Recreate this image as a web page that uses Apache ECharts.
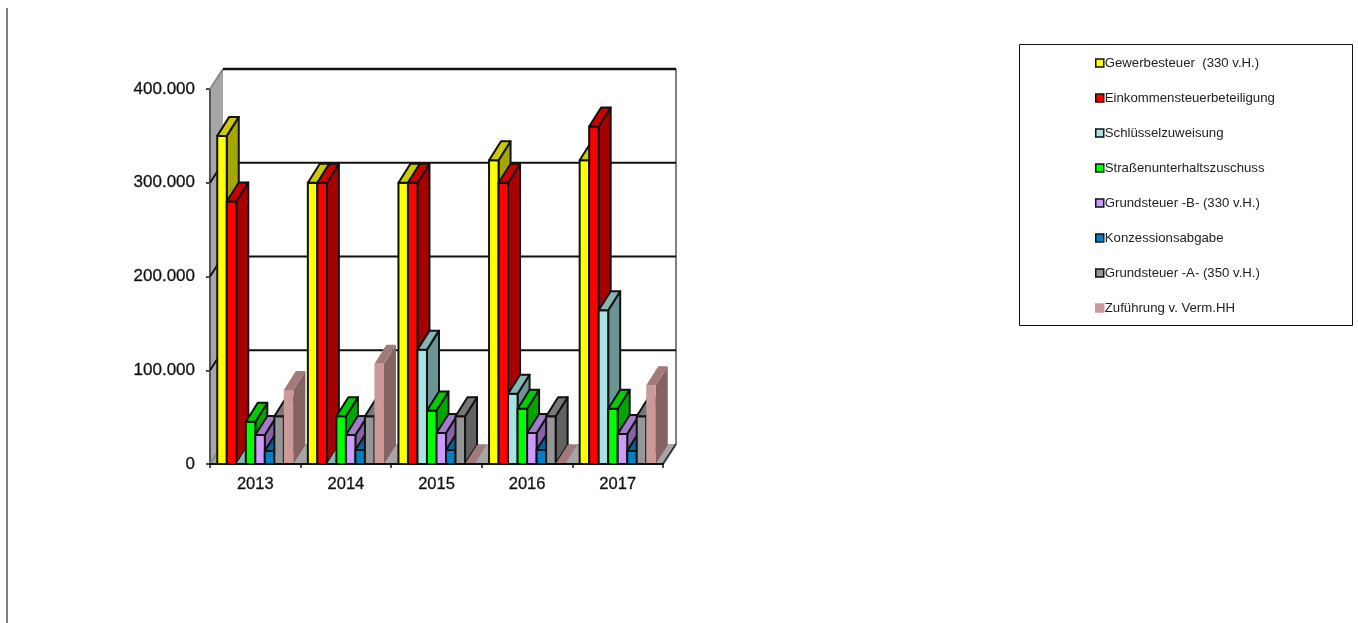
<!DOCTYPE html>
<html>
<head>
<meta charset="utf-8">
<style>
  html, body { margin: 0; padding: 0; background: #fff; }
  #chart { width: 1358px; height: 623px; }
</style>
<script src="https://cdn.jsdelivr.net/npm/echarts@6/dist/echarts.min.js"></script>
</head>
<body>
<div id="chart"></div>
<script>
const years = ['2013', '2014', '2015', '2016', '2017'];
const yTicks = [0, 100000, 200000, 300000, 400000];

const seriesNames = [
  'Gewerbesteuer  (330 v.H.)',
  'Einkommensteuerbeteiligung',
  'Schlüsselzuweisung',
  'Straßenunterhaltszuschuss',
  'Grundsteuer -B- (330 v.H.)',
  'Konzessionsabgabe',
  'Grundsteuer -A- (350 v.H.)',
  'Zuführung v. Verm.HH'
];

const gewerbesteuer = [350000, 300000, 300000, 324000, 324000];
const einkommensteuer = [280000, 300000, 300000, 300000, 360000];
const schluessel = [0, 0, 122000, 75000, 164000];
const strassen = [45000, 51000, 57000, 59000, 59000];
const grundsteuerB = [31000, 31000, 33000, 33000, 32000];
const konzession = [14000, 15000, 15000, 15000, 14000];
const grundsteuerA = [51000, 51000, 51000, 51000, 51000];
const zufuehrung = [79000, 107000, 0, 0, 84000];

const allValues = [gewerbesteuer, einkommensteuer, schluessel, strassen, grundsteuerB, konzession, grundsteuerA, zufuehrung];

const frontColors = ['#ffff00', '#ff0000', '#a6e3e3', '#00ff00', '#cc99ff', '#0080c0', '#969696', '#cc9999'];
// the last series has no outline in the original
const edgeColors = ['#111', '#111', '#111', '#111', '#111', '#111', '#111', null];

const wallDx = 13, wallDy = -20;
const barDx = 12, barDy = -19;
const barRatio = 0.105;

function shade(hex, f) {
  const n = parseInt(hex.slice(1), 16);
  const c = [n >> 16, (n >> 8) & 255, n & 255].map(v => Math.round(v * f));
  return 'rgb(' + c.join(',') + ')';
}

function poly(points, fill, stroke, width) {
  return {
    type: 'polygon',
    shape: { points: points },
    style: { fill: fill, stroke: stroke, lineWidth: stroke ? width : 0, lineJoin: 'round' }
  };
}

function renderWalls(params, api) {
  const g = params.coordSys;
  const l = g.x, r = g.x + g.width, t = g.y, b = g.y + g.height;
  const kids = [
    poly([[l + wallDx, t + wallDy], [r + wallDx, t + wallDy], [r + wallDx, b + wallDy], [l + wallDx, b + wallDy]], '#fff', null, 0),
    poly([[l, t], [l + wallDx, t + wallDy], [l + wallDx, b + wallDy], [l, b]], '#a6a6a6', null, 0),
    poly([[l, b], [l + wallDx, b + wallDy], [r + wallDx, b + wallDy], [r, b]], '#a6a6a6', null, 0)
  ];
  kids.push({ type: 'line', shape: { x1: l, y1: t, x2: l, y2: b }, style: { stroke: '#555', lineWidth: 2 } });
  kids.push({ type: 'line', shape: { x1: r + wallDx, y1: t + wallDy, x2: r + wallDx, y2: b + wallDy }, style: { stroke: '#808080', lineWidth: 2 } });
  kids.push({ type: 'line', shape: { x1: r, y1: b, x2: r + wallDx, y2: b + wallDy }, style: { stroke: '#333', lineWidth: 2 } });
  yTicks.forEach(v => {
    const y = api.coord([0, v])[1];
    const edgeLine = v === 0 || v === yTicks[yTicks.length - 1];
    kids.push({ type: 'line', shape: { x1: l, y1: y, x2: l + wallDx, y2: y + wallDy }, style: { stroke: edgeLine ? '#888' : '#111', lineWidth: 2 } });
    if (v) kids.push({ type: 'line', shape: { x1: l + wallDx, y1: y + wallDy, x2: r + wallDx, y2: y + wallDy }, style: { stroke: '#111', lineWidth: edgeLine ? 2.5 : 2.2 } });
  });
  return { type: 'group', children: kids };
}

function makeBarRenderer(i) {
  return function (params, api) {
    const w = api.size([1, 0])[0] * barRatio;
    const base = api.coord([api.value(0), 0]);
    const top = api.coord([api.value(0), api.value(1)]);
    const x0 = base[0] + (i - 4) * w, x1 = x0 + w;
    const y0 = base[1], y1 = top[1];
    const col = frontColors[i], edge = edgeColors[i];
    const kids = [];
    if (y0 - y1 > 0.5) {
      kids.push(poly([[x1, y0], [x1 + barDx, y0 + barDy], [x1 + barDx, y1 + barDy], [x1, y1]], shade(col, 0.65), edge, 2));
      kids.push(poly([[x0, y0], [x1, y0], [x1, y1], [x0, y1]], col, edge, 2));
    }
    kids.push(poly([[x0, y1], [x1, y1], [x1 + barDx, y1 + barDy], [x0 + barDx, y1 + barDy]], shade(col, 0.8), y0 - y1 > 0.5 ? edge : null, 2));
    return { type: 'group', children: kids };
  };
}

const barSeries = seriesNames.map((name, i) => ({
  name: name,
  type: 'custom',
  coordinateSystem: 'cartesian2d',
  clip: false,
  z: 10 + i,
  itemStyle: { color: frontColors[i] },
  encode: { x: 0, y: 1 },
  data: allValues[i].map((v, k) => [k, v]),
  renderItem: makeBarRenderer(i)
}));

const chart = echarts.init(document.getElementById('chart'));
chart.setOption({
  animation: false,
  backgroundColor: '#fff',
  textStyle: { fontFamily: '"Liberation Sans", Arial, sans-serif' },
  grid: { left: 210, top: 89, width: 453, height: 375, containLabel: false },
  xAxis: {
    type: 'category',
    data: years,
    boundaryGap: true,
    axisLine: { show: true, onZero: false, lineStyle: { color: '#111', width: 2 } },
    axisTick: { show: true, alignWithLabel: false, length: 4, lineStyle: { color: '#111', width: 1.5 } },
    axisLabel: { color: '#111', fontSize: 16.5, margin: 12, textBorderColor: '#222', textBorderWidth: 0.3 },
    splitLine: { show: false },
    z: 30
  },
  yAxis: {
    type: 'value',
    min: 0,
    max: 400000,
    interval: 100000,
    axisLine: { show: false },
    axisTick: { show: true, length: 4, lineStyle: { color: '#111', width: 1.5 } },
    axisLabel: {
      color: '#111',
      fontSize: 17,
      margin: 15,
      textBorderColor: '#222',
      textBorderWidth: 0.3,
      formatter: v => v === 0 ? '0' : (v / 1000) + '.000'
    },
    splitLine: { show: false }
  },
  legend: {
    orient: 'vertical',
    left: 1095,
    top: 56,
    padding: 0,
    itemWidth: 8,
    itemHeight: 8,
    itemGap: 21,
    selectedMode: false,
    icon: 'rect',
    textStyle: { color: '#222', fontSize: 13.2, lineHeight: 14, padding: [0, 0, 0, -4] },
    data: seriesNames.map((name, i) => ({
      name: name,
      itemStyle: { color: frontColors[i], borderColor: edgeColors[i] || frontColors[i], borderWidth: 1.5 }
    }))
  },
  graphic: [
    { type: 'rect', shape: { x: 1019.5, y: 44.5, width: 333, height: 281 }, style: { fill: 'none', stroke: '#111', lineWidth: 1 } },
    { type: 'line', shape: { x1: 7, y1: 8, x2: 7, y2: 623 }, style: { stroke: '#555', lineWidth: 1.5 } }
  ],
  series: [{
    type: 'custom',
    coordinateSystem: 'cartesian2d',
    clip: false,
    silent: true,
    z: 1,
    encode: { x: 0, y: 1 },
    data: [[0, 0]],
    renderItem: renderWalls
  }].concat(barSeries)
});
</script>
</body>
</html>
